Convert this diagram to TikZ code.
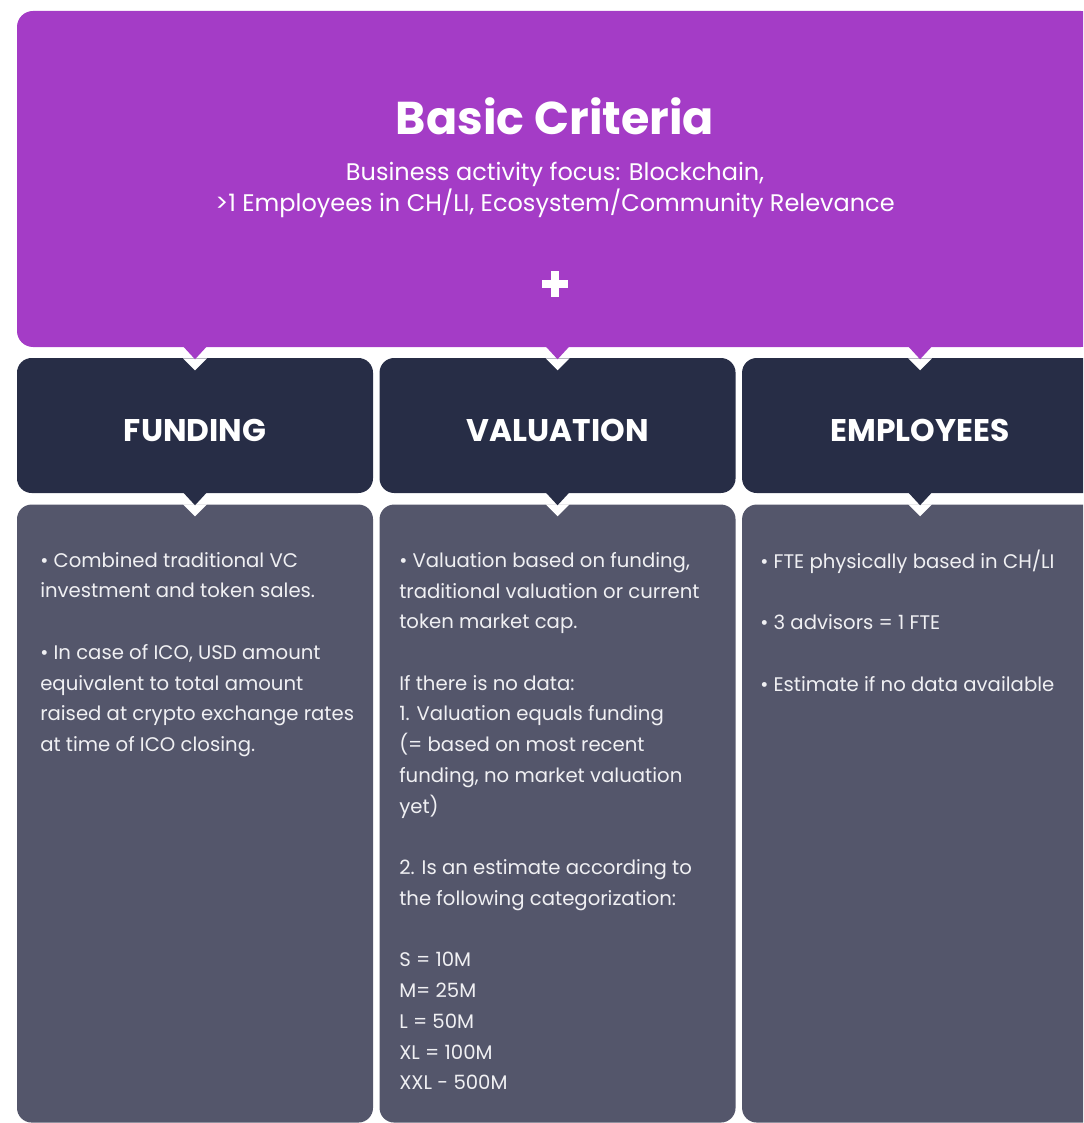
\documentclass[tikz,border=0pt]{standalone}
\usepackage{fontspec}
\setmainfont{Poppins}
\usetikzlibrary{positioning}

\definecolor{critpurple}{HTML}{A43CC6}
\definecolor{headnavy}{HTML}{272D46}
\definecolor{bodygray}{HTML}{54566B}
\definecolor{bodytext}{HTML}{F0F0F3}

\newlength\pu
\setlength\pu{0.75pt}

\begin{document}
\begin{tikzpicture}[
            x=0.75pt, y=-0.75pt,
            critbox/.style={fill=critpurple, rounded corners=12pt,
                minimum width=1080\pu, minimum height=336\pu, inner sep=0pt},
            headbox/.style={fill=headnavy, rounded corners=11pt,
                minimum width=356\pu, minimum height=135\pu, inner sep=0pt,
                text height=24pt, text depth=0pt,
                text=white, font=\bfseries\fontsize{23.5}{26}\selectfont},
            bodybox/.style={fill=bodygray, rounded corners=11pt,
                minimum width=356\pu, minimum height=618\pu, inner sep=0pt},
            bodytxt/.style={anchor=north west, inner sep=0pt, align=left,
                text=bodytext, font=\fontsize{14.75}{23.05}\selectfont},
            gapfill/.style={fill=white}
            ]

            \useasboundingbox (0,0) rectangle (1083,1123);
            \clip (0,0) rectangle (1083,1123);

            % column heads
            \node[headbox] (fundhead) at (195,425.5) {FUNDING};
            \node[headbox, right=4.5pt of fundhead] (valhead) {VALUATION};
            \node[headbox, right=4.5pt of valhead] (emplhead) {EMPLOYEES};

            % column bodies
            \node[bodybox, below=8.25pt of fundhead] (fundbody) {};
            \node[bodybox, below=8.25pt of valhead] (valbody) {};
            \node[bodybox, below=8.25pt of emplhead] (emplbody) {};

            % pointers from heads into bodies
            \fill[gapfill] ([xshift=-12\pu,yshift=-11\pu]fundhead.south) -- ([xshift=12\pu,yshift=-11\pu]fundhead.south) -- ([yshift=-23\pu]fundhead.south) -- cycle;
            \fill[headnavy] ([xshift=-12\pu,yshift=1\pu]fundhead.south) -- ([xshift=12\pu,yshift=1\pu]fundhead.south) -- ([yshift=-12\pu]fundhead.south) -- cycle;
            \fill[gapfill] ([xshift=-12\pu,yshift=-11\pu]valhead.south) -- ([xshift=12\pu,yshift=-11\pu]valhead.south) -- ([yshift=-23\pu]valhead.south) -- cycle;
            \fill[headnavy] ([xshift=-12\pu,yshift=1\pu]valhead.south) -- ([xshift=12\pu,yshift=1\pu]valhead.south) -- ([yshift=-12\pu]valhead.south) -- cycle;
            \fill[gapfill] ([xshift=-12\pu,yshift=-11\pu]emplhead.south) -- ([xshift=12\pu,yshift=-11\pu]emplhead.south) -- ([yshift=-23\pu]emplhead.south) -- cycle;
            \fill[headnavy] ([xshift=-12\pu,yshift=1\pu]emplhead.south) -- ([xshift=12\pu,yshift=1\pu]emplhead.south) -- ([yshift=-12\pu]emplhead.south) -- cycle;

            % basic criteria box
            \node[critbox] (crit) at (557,179) {};
            \node[text=white, font=\bfseries\fontsize{34.5}{38}\selectfont] (title) at (555,116) {Basic Criteria};
            \node[text=white, align=center, font=\fontsize{18}{23.25}\selectfont] (subtitle) at (555,190)
                {Business activity focus: Blockchain,\\>1 Employees in CH/LI, Ecosystem/Community Relevance};
            \fill[white] (542,280) rectangle (568,288);
            \fill[white] (551,271) rectangle (559,297);

            % pointers from criteria into heads
            \coordinate (fundtip) at (fundhead.north |- crit.south);
            \coordinate (valtip) at (valhead.north |- crit.south);
            \coordinate (empltip) at (emplhead.north |- crit.south);
            \fill[gapfill] ([xshift=-12\pu,yshift=-11\pu]fundtip) -- ([xshift=12\pu,yshift=-11\pu]fundtip) -- ([yshift=-23\pu]fundtip) -- cycle;
            \fill[critpurple] ([xshift=-12\pu,yshift=1\pu]fundtip) -- ([xshift=12\pu,yshift=1\pu]fundtip) -- ([yshift=-12\pu]fundtip) -- cycle;
            \fill[gapfill] ([xshift=-12\pu,yshift=-11\pu]valtip) -- ([xshift=12\pu,yshift=-11\pu]valtip) -- ([yshift=-23\pu]valtip) -- cycle;
            \fill[critpurple] ([xshift=-12\pu,yshift=1\pu]valtip) -- ([xshift=12\pu,yshift=1\pu]valtip) -- ([yshift=-12\pu]valtip) -- cycle;
            \fill[gapfill] ([xshift=-12\pu,yshift=-11\pu]empltip) -- ([xshift=12\pu,yshift=-11\pu]empltip) -- ([yshift=-23\pu]empltip) -- cycle;
            \fill[critpurple] ([xshift=-12\pu,yshift=1\pu]empltip) -- ([xshift=12\pu,yshift=1\pu]empltip) -- ([yshift=-12\pu]empltip) -- cycle;

            % body texts
            \node[bodytxt] (fundtxt) at (40,552) {%
                • Combined traditional VC\\
                investment and token sales.\\[23.05pt]
                • In case of ICO, USD amount\\
                equivalent to total amount\\
                raised at crypto exchange rates\\
                at time of ICO closing.};
            \node[bodytxt] (valtxt) at (399,552) {%
                • Valuation based on funding,\\
                traditional valuation or current\\
                token market cap.\\[23.05pt]
                If there is no data:\\
                1. Valuation equals funding\\
                (= based on most recent\\
                funding, no market valuation\\
                yet)\\[23.05pt]
                2. Is an estimate according to\\
                the following categorization:\\[23.05pt]
                S = 10M\\
                M= 25M\\
                L = 50M\\
                XL = 100M\\
                XXL - 500M};
            \node[bodytxt] (empltxt) at (760,549.5) {%
                • FTE physically based in CH/LI\\[23.05pt]
                • 3 advisors = 1 FTE\\[23.05pt]
                • Estimate if no data available};

        \end{tikzpicture}
\end{document}
